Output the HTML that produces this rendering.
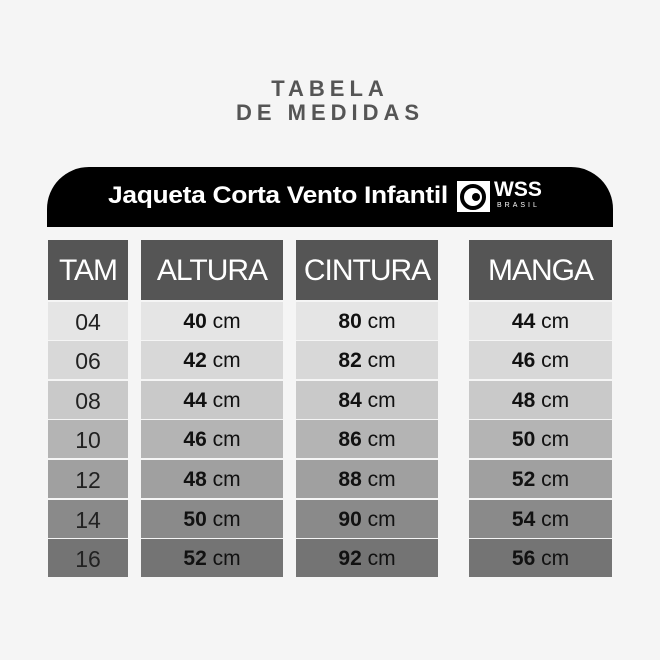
<!DOCTYPE html><html><head><style>
body{margin:0;width:660px;height:660px;background:#f5f5f5;position:relative;font-family:"Liberation Sans",sans-serif;overflow:hidden}
.t{position:absolute;left:0;width:660px;text-align:center;color:#555;font-weight:bold;font-size:22px;letter-spacing:5px}
.ban{position:absolute;left:47px;top:167px;width:566px;height:60px;background:#000;border-radius:42px 42px 0 0}
.bt{position:absolute;left:108px;top:182px;color:#fff;font-weight:bold;font-size:24px;letter-spacing:-0.3px;transform:scaleX(1.1);transform-origin:0 0}
.logo{position:absolute;left:457px;top:181px;width:33px;height:31px;background:#fff}
.col{position:absolute;top:240px}
.h{height:60px;background:#555;color:#fff;font-size:30px;text-align:center;line-height:62px;letter-spacing:-1px}
.r{height:38px;margin-top:1.6px;text-align:center;line-height:40px;font-size:21px;color:#111}
.r b{font-weight:bold}
</style></head><body>
<div class="t" style="top:76px">TABELA</div>
<div class="t" style="top:100px">DE MEDIDAS</div>
<div class="ban"></div>
<div class="bt">Jaqueta Corta Vento Infantil</div>
<div class="logo"><svg width="33" height="31"><circle cx="16" cy="16" r="11" fill="none" stroke="#000" stroke-width="4"/><circle cx="19" cy="16" r="4" fill="#000"/></svg></div>
<div style="position:absolute;left:494px;top:178px;color:#fff;font-weight:bold;font-size:21px">WSS</div>
<div style="position:absolute;left:497px;top:202px;color:#fff;font-size:7px;letter-spacing:3px">BRASIL</div>
<div id="c"></div>
<script>
var cols=[[48,80,"TAM",["04","06","08","10","12","14","16"],0],[141,142,"ALTURA",[40,42,44,46,48,50,52],1],[296,142,"CINTURA",[80,82,84,86,88,90,92],1],[469,143,"MANGA",[44,46,48,50,52,54,56],1]];
var bg=["#e5e5e5","#d8d8d8","#c9c9c9","#b4b4b4","#a0a0a0","#8a8a8a","#747474"];
var h="";cols.forEach(function(c){h+='<div class="col" style="left:'+c[0]+'px;width:'+c[1]+'px"><div class="h">'+c[2]+'</div>';
c[3].forEach(function(v,i){h+='<div class="r" style="background:'+bg[i]+'">'+(c[4]?'<b>'+v+'</b> cm':'<span style="font-size:23px;color:#222">'+v+'</span>')+'</div>'});h+='</div>'});
document.getElementById("c").innerHTML=h;
</script>
</body></html>
